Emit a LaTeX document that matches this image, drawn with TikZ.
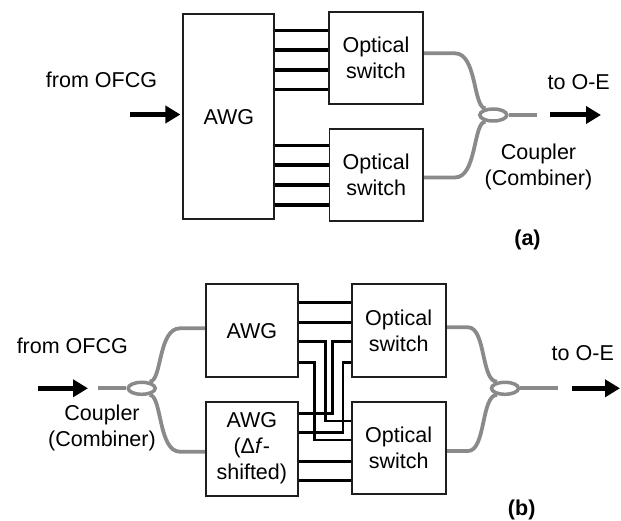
\documentclass[tikz,border=0pt]{standalone}
\usepackage{fontspec}
\setmainfont{Liberation Sans}
\usetikzlibrary{arrows.meta,shapes.geometric,backgrounds}
\definecolor{fibergray}{RGB}{138,138,138}
\definecolor{boxline}{RGB}{30,30,30}
\begin{document}
\begin{tikzpicture}[x=1pt,y=-1pt,
  every node/.style={font=\fontsize{21.5}{26}\selectfont},
  box/.style={draw=boxline, line width=1.8pt, fill=white, inner sep=0pt, align=center},
  wirea/.style={draw=black, line width=3.2pt},
  wireb/.style={draw=black, line width=2.6pt},
  fiber/.style={draw=fibergray, line width=3.8pt},
  coupler/.style={ellipse, draw=fibergray, line width=3.5pt, fill=white, minimum width=27pt, minimum height=12pt, inner sep=0pt},
  bigarrow/.style={draw=black, line width=5pt, -{Triangle[length=15pt,width=17pt]}},
  lbl/.style={inner sep=0pt, align=center}
]
\useasboundingbox (0,0) rectangle (621,521);

% ---------------- (a) ----------------
\node[box, minimum width=91pt, minimum height=205pt] (AWGa) at (228.8,116.7) {AWG};
\node[box, minimum width=93.5pt, minimum height=91.7pt] (OSa1) at (376,58.2) {Optical\\switch};
\node[box, minimum width=93.5pt, minimum height=91.7pt] (OSa2) at (376.2,175.2) {Optical\\switch};
\foreach \y in {30.7,50,70,89.3} \draw[wirea] (AWGa.east |- 0,\y) -- (OSa1.west |- 0,\y);
\foreach \y in {145.7,165,185,205} \draw[wirea] (AWGa.east |- 0,\y) -- (OSa2.west |- 0,\y);

\node[lbl] (fromA) at (101.5,79.5) {from OFCG};
\coordinate (ina) at (130,114.5);
\draw[bigarrow, shorten >=2pt] (ina) -- (AWGa.west |- ina);

\node[coupler] (cA) at (493.3,115) {};
\coordinate (outA) at (536.7,115);
\begin{scope}[on background layer]
\draw[fiber] (OSa1.east |- 0,53.3) -- (455,53.3) .. controls (477,53.3) and (473,108) .. (cA.140);
\draw[fiber] (OSa2.east |- 0,177.5) -- (455,177.5) .. controls (477,177.5) and (473,122) .. (cA.220);
\draw[fiber] (cA.east) -- (outA);
\end{scope}
\coordinate (arrA1) at (550,115);
\coordinate (arrA2) at (601,115);
\draw[bigarrow] (arrA1) -- (arrA2);
\node[lbl] (toA) at (578.7,81.7) {to O-E};
\node[lbl] (coupA) at (538.5,167) {Coupler\\(Combiner)};
\node[lbl] (labA) at (527.5,240) {\textbf{(a)}};

% ---------------- (b) ----------------
\node[box, minimum width=91.7pt, minimum height=93.3pt] (AWGb1) at (251.8,330.7) {AWG};
\node[box, minimum width=91.7pt, minimum height=94pt] (AWGb2) at (251.8,448.7) {AWG\\(Δ\textit{f}-\\shifted)};
\node[box, minimum width=94pt, minimum height=93pt] (OSb1) at (398.7,330.5) {Optical\\switch};
\node[box, minimum width=94pt, minimum height=92.3pt] (OSb2) at (398.7,447.8) {Optical\\switch};

\foreach \y in {302.7,322.7} \draw[wireb] (AWGb1.east |- 0,\y) -- (OSb1.west |- 0,\y);
\foreach \y in {461.7,480.7} \draw[wireb] (AWGb2.east |- 0,\y) -- (OSb2.west |- 0,\y);
\draw[wireb] (AWGb1.east |- 0,341.7) -| (325.5,421) -- (OSb2.west |- 0,421);
\draw[wireb] (AWGb1.east |- 0,362.7) -| (314.5,440) -- (OSb2.west |- 0,440);
\draw[wireb] (AWGb2.east |- 0,413.7) -| (332.3,341.7) -- (OSb1.west |- 0,341.7);
\draw[wireb] (AWGb2.east |- 0,432.5) -| (342.8,362.7) -- (OSb1.west |- 0,362.7);

\node[lbl] (fromB) at (72.3,345.5) {from OFCG};
\coordinate (arrB1) at (38,388.3);
\coordinate (arrB2) at (88,388.3);
\draw[bigarrow] (arrB1) -- (arrB2);
\coordinate (inb) at (98,388.3);
\node[coupler] (cB1) at (141.7,388.3) {};
\node[coupler] (cB2) at (505,388.3) {};
\coordinate (outB) at (558.3,388.3);
\begin{scope}[on background layer]
\draw[fiber] (inb) -- (cB1.west);
\draw[fiber] (cB1.40) .. controls (162,382) and (158,328.3) .. (180,328.3) -- (AWGb1.west |- 0,328.3);
\draw[fiber] (cB1.320) .. controls (162,394.6) and (158,451.7) .. (180,451.7) -- (AWGb2.west |- 0,451.7);
\draw[fiber] (OSb1.east |- 0,327.3) -- (468,327.3) .. controls (486,327.3) and (481,382) .. (cB2.140);
\draw[fiber] (OSb2.east |- 0,451) -- (468,451) .. controls (486,451) and (481,394.6) .. (cB2.220);
\draw[fiber] (cB2.east) -- (outB);
\end{scope}
\coordinate (arrB3) at (571.7,388.3);
\coordinate (arrB4) at (620,388.3);
\draw[bigarrow] (arrB3) -- (arrB4);
\node[lbl] (coupB) at (102,428) {Coupler\\(Combiner)};
\node[lbl] (toB) at (582.8,353.5) {to O-E};
\node[lbl] (labB) at (521.7,510) {\textbf{(b)}};
\end{tikzpicture}
\end{document}
